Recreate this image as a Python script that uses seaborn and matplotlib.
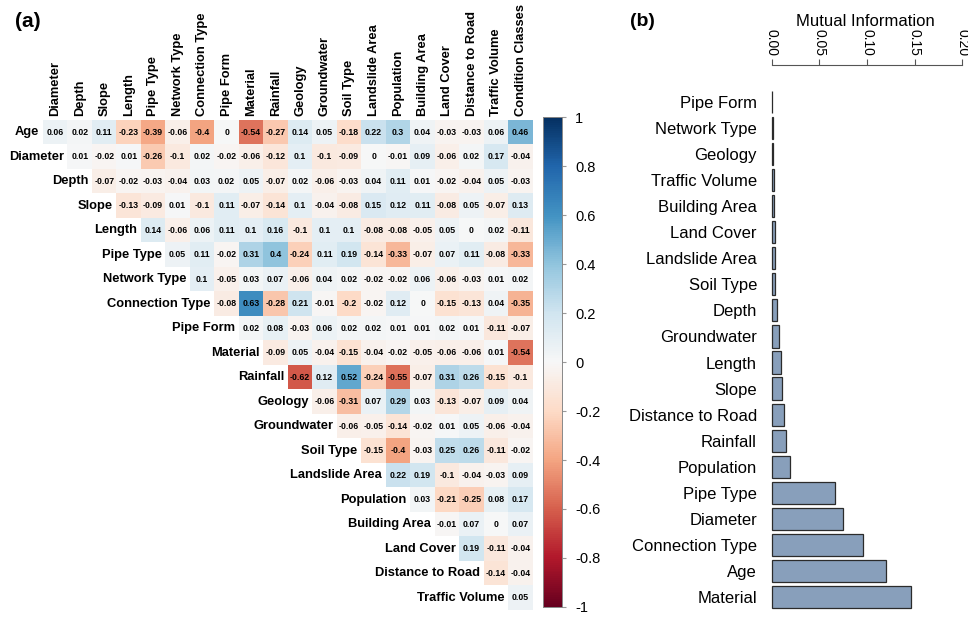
import numpy as np
import pandas as pd
import matplotlib
matplotlib.use('Agg')
import matplotlib.pyplot as plt
import seaborn as sns

# Zmienne (wiersze i kolumny macierzy korelacji)
row_names = ['Age', 'Diameter', 'Depth', 'Slope', 'Length', 'Pipe Type', 'Network Type',
             'Connection Type', 'Pipe Form', 'Material', 'Rainfall', 'Geology', 'Groundwater',
             'Soil Type', 'Landslide Area', 'Population', 'Building Area', 'Land Cover',
             'Distance to Road', 'Traffic Volume']
col_names = row_names[1:] + ['Condition Classes']

# Górny trójkąt macierzy korelacji, wiersz po wierszu
r_age = [0.06, 0.02, 0.11, -0.23, -0.39, -0.06, -0.4, 0, -0.54, -0.27, 0.14, 0.05, -0.18, 0.22, 0.3, 0.04, -0.03, -0.03, 0.06, 0.46]
r_diameter = [0.01, -0.02, 0.01, -0.26, -0.1, 0.02, -0.02, -0.06, -0.12, 0.1, -0.1, -0.09, 0, -0.01, 0.09, -0.06, 0.02, 0.17, -0.04]
r_depth = [-0.07, -0.02, -0.03, -0.04, 0.03, 0.02, 0.05, -0.07, 0.02, -0.06, -0.03, 0.04, 0.11, 0.01, -0.02, -0.04, 0.05, -0.03]
r_slope = [-0.13, -0.09, 0.01, -0.1, 0.11, -0.07, -0.14, 0.1, -0.04, -0.08, 0.15, 0.12, 0.11, -0.08, 0.05, -0.07, 0.13]
r_length = [0.14, -0.06, 0.06, 0.11, 0.1, 0.16, -0.1, 0.1, 0.1, -0.08, -0.08, -0.05, 0.05, 0, 0.02, -0.11]
r_pipe_type = [0.05, 0.11, -0.02, 0.31, 0.4, -0.24, 0.11, 0.19, -0.14, -0.33, -0.07, 0.07, 0.11, -0.08, -0.33]
r_network = [0.1, -0.05, 0.03, 0.07, -0.06, 0.04, 0.02, -0.02, -0.02, 0.06, -0.06, -0.03, 0.01, 0.02]
r_connection = [-0.08, 0.63, -0.28, 0.21, -0.01, -0.2, -0.02, 0.12, 0, -0.15, -0.13, 0.04, -0.35]
r_pipe_form = [0.02, 0.08, -0.03, 0.06, 0.02, 0.02, 0.01, 0.01, 0.02, 0.01, -0.11, -0.07]
r_material = [-0.09, 0.05, -0.04, -0.15, -0.04, -0.02, -0.05, -0.06, -0.06, 0.01, -0.54]
r_rainfall = [-0.62, 0.12, 0.52, -0.24, -0.55, -0.07, 0.31, 0.26, -0.15, -0.1]
r_geology = [-0.06, -0.31, 0.07, 0.29, 0.03, -0.13, -0.07, 0.09, 0.04]
r_groundwater = [-0.06, -0.05, -0.14, -0.02, 0.01, 0.05, -0.06, -0.04]
r_soil = [-0.15, -0.4, -0.03, 0.25, 0.26, -0.11, -0.02]
r_landslide = [0.22, 0.19, -0.1, -0.04, -0.03, 0.09]
r_population = [0.03, -0.21, -0.25, 0.08, 0.17]
r_building = [-0.01, 0.07, 0, 0.07]
r_land_cover = [0.19, -0.11, -0.04]
r_distance = [-0.14, -0.04]
r_traffic = [0.05]

# Informacja wzajemna (panel b)
mi_names = ['Pipe Form', 'Network Type', 'Geology', 'Traffic Volume', 'Building Area', 'Land Cover',
            'Landslide Area', 'Soil Type', 'Depth', 'Groundwater', 'Length', 'Slope',
            'Distance to Road', 'Rainfall', 'Population', 'Pipe Type', 'Diameter',
            'Connection Type', 'Age', 'Material']
mi_values = [0.0004, 0.0008, 0.0012, 0.0018, 0.0025, 0.003, 0.0035, 0.0035, 0.005, 0.007,
             0.0098, 0.0102, 0.0128, 0.0152, 0.0192, 0.066, 0.075, 0.096, 0.120, 0.146]

rows = [r_age, r_diameter, r_depth, r_slope, r_length, r_pipe_type, r_network, r_connection,
        r_pipe_form, r_material, r_rainfall, r_geology, r_groundwater, r_soil, r_landslide,
        r_population, r_building, r_land_cover, r_distance, r_traffic]

n = len(row_names)
mat = np.full((n, n), np.nan)
for i, vals in enumerate(rows):
    mat[i, i:] = vals
corr = pd.DataFrame(mat, index=row_names, columns=col_names)

# Etykiety w stylu R (0.4 zamiast 0.40, 0 zamiast 0.00)
def fmt(v):
    if np.isnan(v):
        return ''
    return f"{round(v, 2) + 0.0:g}"

annot = np.vectorize(fmt)(mat)

sns.set_style('white')
plt.rcParams['font.family'] = ['Liberation Sans', 'DejaVu Sans']
plt.rcParams['text.color'] = 'black'
plt.rcParams['axes.labelcolor'] = 'black'
plt.rcParams['xtick.color'] = 'black'
plt.rcParams['ytick.color'] = 'black'

fig = plt.figure(figsize=(9.68, 6.18), dpi=100)
ax = fig.add_axes([0.0444, 0.013, 0.506, 0.793])
cax = fig.add_axes([0.561, 0.018, 0.020, 0.792])

sns.heatmap(corr, mask=np.isnan(mat), cmap='RdBu', vmin=-1, vmax=1, annot=annot, fmt='',
            annot_kws={'size': 6.3, 'weight': 'bold', 'color': 'black'},
            ax=ax, cbar_ax=cax, yticklabels=False, linewidths=0)

ax.xaxis.tick_top()
ax.set_xticklabels(col_names, fontsize=9.3, fontweight='bold')
ax.tick_params(axis='x', length=0, pad=3, labelrotation=90)
ax.set_xlabel('')
ax.set_ylabel('')

# Nazwy wierszy przy przekątnej
for i, name in enumerate(row_names):
    ax.text(i - 0.15, i + 0.5, name, ha='right', va='center', fontsize=9.3, fontweight='bold')

ticks = np.round(np.arange(-1, 1.01, 0.2), 1)
cax.set_yticks(ticks)
cax.set_yticklabels([f"{t + 0.0:g}" for t in ticks], fontsize=10.5)
cax.tick_params(axis='y', length=3, color='#999999', pad=6)
for s in cax.spines.values():
    s.set_visible(True)
    s.set_color('#888888')
    s.set_linewidth(0.6)

fig.text(0.015, 0.965, '(a)', fontsize=15, fontweight='bold', va='center')

# Panel (b): informacja wzajemna
ax2 = fig.add_axes([0.7935, 0.013, 0.2005, 0.843])
sns.barplot(x=mi_values, y=mi_names, orient='h', color='#7f9ec3', edgecolor='#2b2b2b',
            linewidth=0.9, width=0.85, ax=ax2)
ax2.set_xlim(-0.004, 0.2)
ax2.set_ylim(n - 0.5, -0.5)
ax2.xaxis.tick_top()
ax2.xaxis.set_label_position('top')
ax2.set_xticks([0, 0.05, 0.10, 0.15, 0.20])
ax2.set_xticklabels(['0.00', '0.05', '0.10', '0.15', '0.20'], fontsize=10, color='#333333')
ax2.tick_params(axis='x', length=4, color='#555555', pad=3, labelrotation=-90)
ax2.tick_params(axis='y', length=0, labelsize=12, pad=8)
ax2.set_xlabel('Mutual Information', fontsize=12, labelpad=2)
ax2.set_ylabel('')
for s in ['left', 'right', 'bottom']:
    ax2.spines[s].set_visible(False)
ax2.spines['top'].set_position(('outward', 17))
ax2.spines['top'].set_bounds(0, 0.2)
ax2.spines['top'].set_color('#555555')
ax2.spines['top'].set_linewidth(0.8)

fig.text(0.651, 0.965, '(b)', fontsize=14, fontweight='bold', va='center')

plt.savefig('out.png', dpi=100)
